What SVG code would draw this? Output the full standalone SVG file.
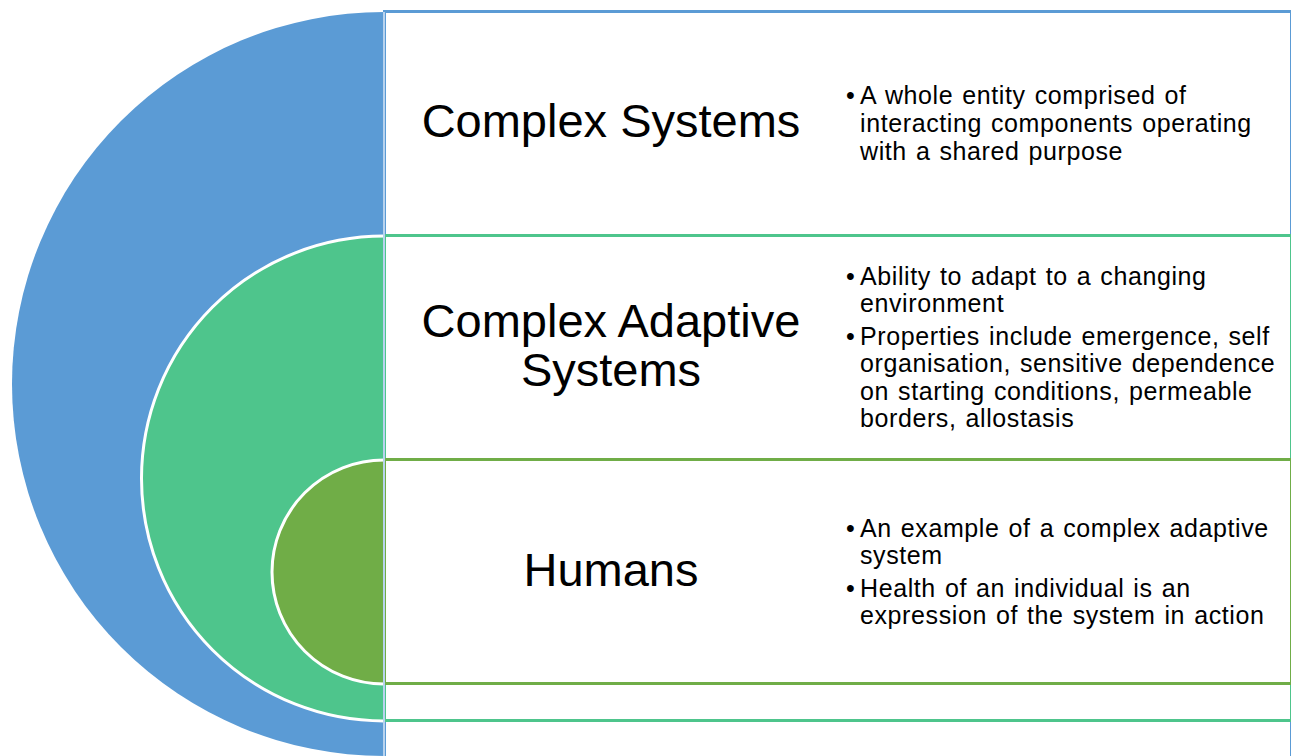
<svg xmlns="http://www.w3.org/2000/svg" width="1291" height="756" viewBox="0 0 1291 756">
<style>
.title{font-family:"Liberation Sans",Arial,sans-serif;font-size:47px;fill:#000;text-anchor:middle}
.bul{font-family:"Liberation Sans",Arial,sans-serif;font-size:25px;fill:#000;letter-spacing:0.6px;word-spacing:1.5px}
.arc{fill:none;stroke:#fff;stroke-width:3}
</style>
<rect width="1291" height="756" fill="#fff"/>
<g id="box-complex-systems">
<rect x="384.5" y="11.5" width="907" height="760" fill="#fff" stroke="#5B9BD5" stroke-width="3"/>
</g>
<g id="box-cas">
<rect x="384.5" y="235.5" width="907" height="485" fill="#fff" stroke="#4EC58C" stroke-width="3"/>
</g>
<g id="box-humans">
<rect x="384.5" y="459.5" width="907" height="224" fill="#fff" stroke="#70AD47" stroke-width="3"/>
</g>
<g id="semi-blue">
<path d="M384,12 A372,372 0 0 0 384,756 Z" fill="#5B9BD5"/>
</g>
<g id="semi-green">
<path d="M384,236 A242.5,242.5 0 0 0 384,721 Z" fill="#4EC58C"/>
<path class="arc" d="M384,236 A242.5,242.5 0 0 0 384,721"/>
</g>
<g id="semi-darkgreen">
<path d="M384,460 A112,112 0 0 0 384,684 Z" fill="#70AD47"/>
<path class="arc" d="M384,460 A112,112 0 0 0 384,684"/>
</g>
<g id="edges" stroke-width="2">
<line x1="384" y1="12" x2="384" y2="756" stroke="#b8d3ee"/>
</g>
<g id="text-complex-systems">
<text class="title" x="611" y="137">Complex Systems</text>
<text class="bul" x="846" y="104">•</text>
<text class="bul" x="860" y="104">A whole entity comprised of</text>
<text class="bul" x="860" y="132">interacting components operating</text>
<text class="bul" x="860" y="160">with a shared purpose</text>
</g>
<g id="text-cas">
<text class="title" x="611" y="337">Complex Adaptive</text>
<text class="title" x="611" y="386">Systems</text>
<text class="bul" x="846" y="285">•</text>
<text class="bul" x="860" y="285">Ability to adapt to a changing</text>
<text class="bul" x="860" y="312">environment</text>
<text class="bul" x="846" y="345">•</text>
<text class="bul" x="860" y="345">Properties include emergence, self</text>
<text class="bul" x="860" y="372">organisation, sensitive dependence</text>
<text class="bul" x="860" y="400">on starting conditions, permeable</text>
<text class="bul" x="860" y="427">borders, allostasis</text>
</g>
<g id="text-humans">
<text class="title" x="611" y="586">Humans</text>
<text class="bul" x="846" y="537">•</text>
<text class="bul" x="860" y="537">An example of a complex adaptive</text>
<text class="bul" x="860" y="564">system</text>
<text class="bul" x="846" y="597">•</text>
<text class="bul" x="860" y="597">Health of an individual is an</text>
<text class="bul" x="860" y="624">expression of the system in action</text>
</g>
</svg>
